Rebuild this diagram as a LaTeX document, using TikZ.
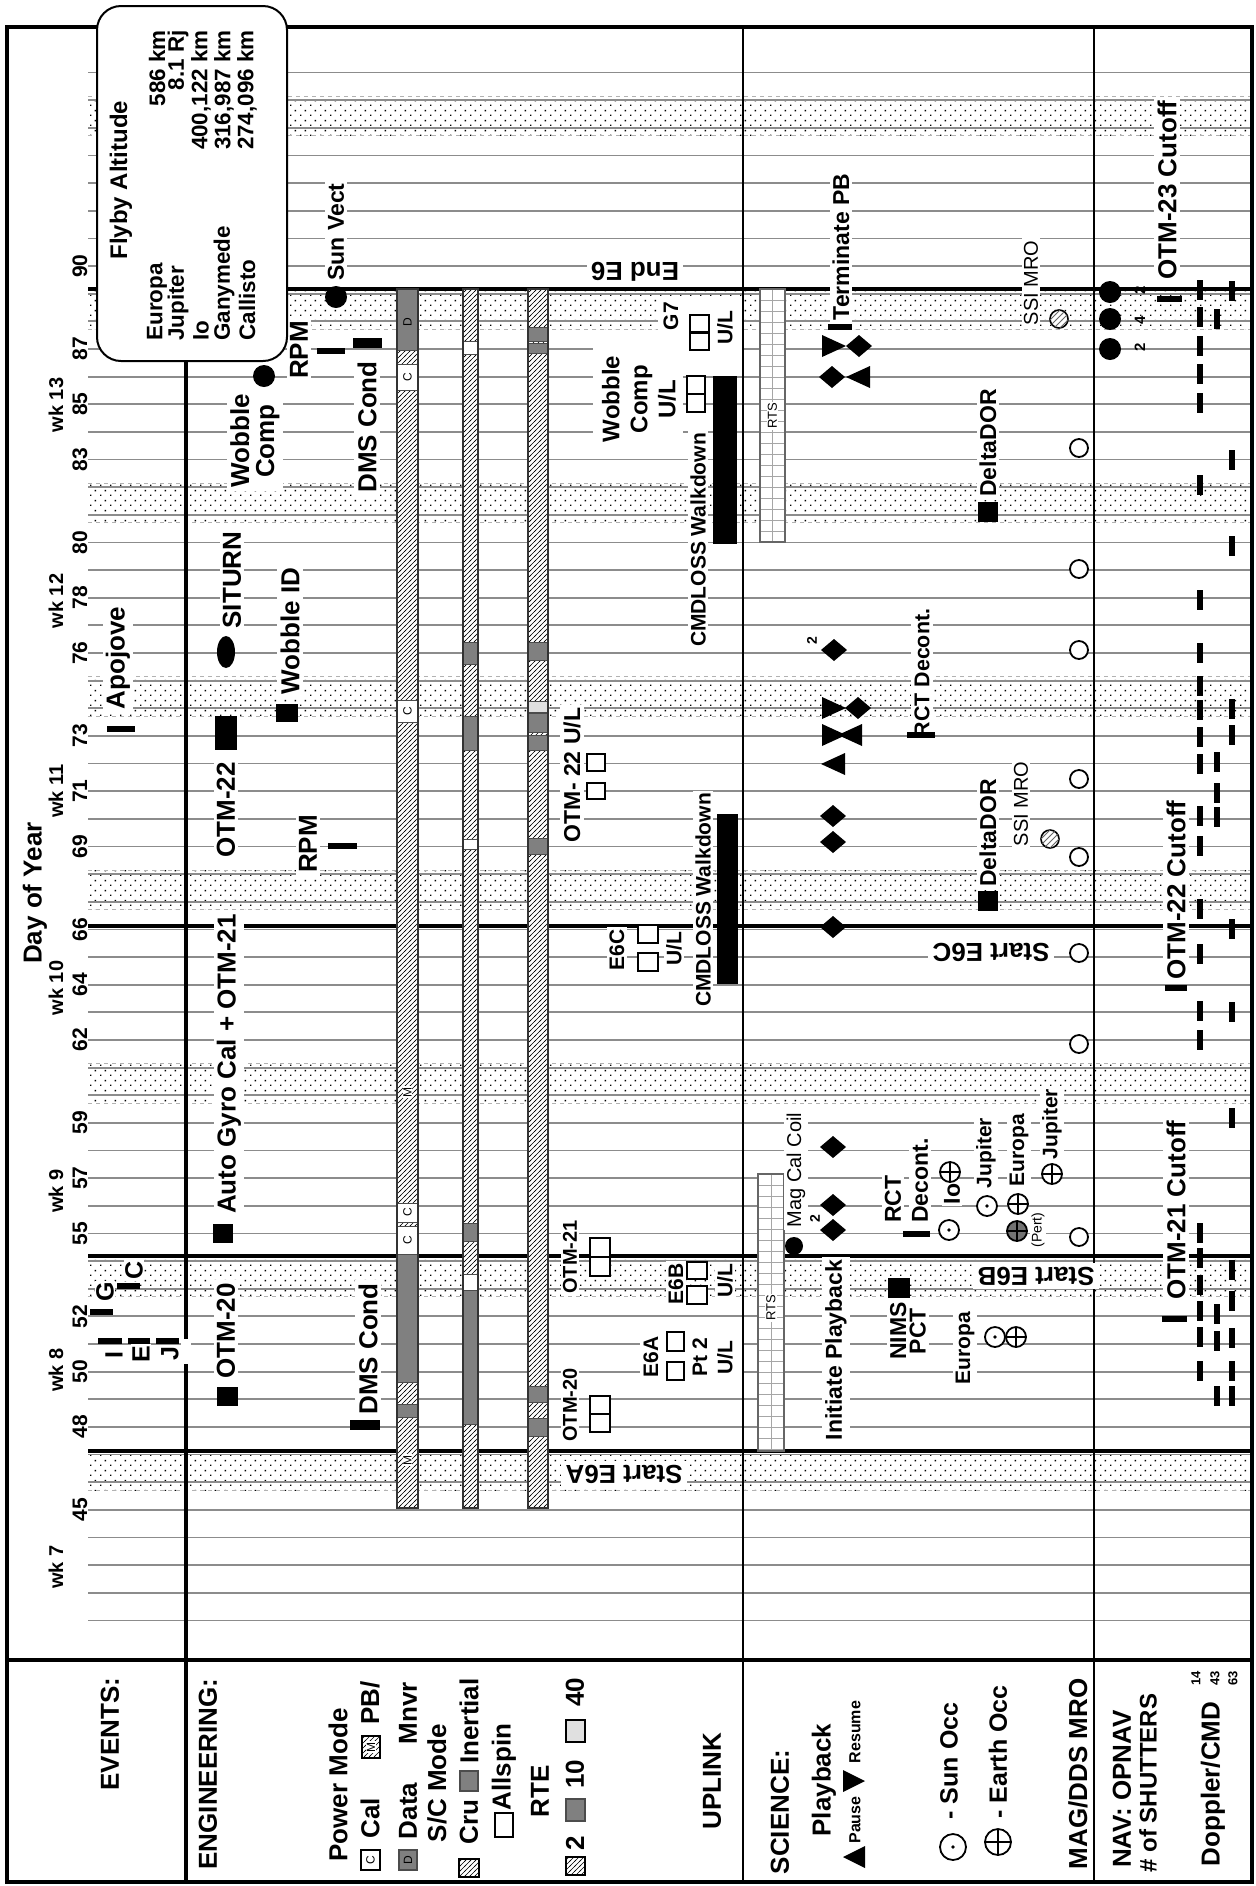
\documentclass[tikz,border=0pt]{standalone}
\usepackage{fontspec}
\setmainfont{Liberation Sans}
\usetikzlibrary{patterns}
\pgfdeclarepatternformonly{stipple}{\pgfqpoint{0pt}{0pt}}{\pgfqpoint{5pt}{5pt}}{\pgfqpoint{5pt}{5pt}}{%
  \pgfpathrectangle{\pgfqpoint{0pt}{0pt}}{\pgfqpoint{0.8pt}{0.8pt}}%
  \pgfpathrectangle{\pgfqpoint{2.5pt}{2.5pt}}{\pgfqpoint{0.8pt}{0.8pt}}%
  \pgfusepath{fill}%
}
\pgfdeclarepatternformonly{finehatch}{\pgfqpoint{-0.5pt}{-0.5pt}}{\pgfqpoint{3pt}{3pt}}{\pgfqpoint{2.5pt}{2.5pt}}{%
  \pgfsetlinewidth{0.32pt}%
  \pgfpathmoveto{\pgfqpoint{-0.5pt}{-0.5pt}}%
  \pgfpathlineto{\pgfqpoint{3pt}{3pt}}%
  \pgfusepath{stroke}%
}
\newcommand{\pbdia}[2]{\fill (#1-13,#2) -- (#1,#2-11) -- (#1+13,#2) -- (#1,#2+11) -- cycle;}
\newcommand{\pbres}[2]{\fill (#1,#2-11) -- (#1+24,#2) -- (#1,#2+11) -- cycle;}
\newcommand{\pbpau}[2]{\fill (#1,#2-11) -- (#1-24,#2) -- (#1,#2+11) -- cycle;}
\newcommand{\sunocc}[3]{\draw[line width=0.9pt,fill=white] (#1,#2) circle[radius=#3]; \fill (#1,#2) circle[radius=1.8];}
\newcommand{\earthocc}[3]{\draw[line width=0.9pt,fill=white] (#1,#2) circle[radius=#3]; \draw[line width=0.9pt] (#1-#3,#2) -- (#1+#3,#2) (#1,#2-#3) -- (#1,#2+#3);}
\begin{document}
\begin{tikzpicture}[x=0.5pt,y=-0.5pt,
  declare function={dy(\d)=653+(76-\d)*27.64;},
  gridln/.style={draw=black!45,line width=0.9pt},
  evline/.style={line width=2.2pt},
  evbar/.style={line width=2.6pt},
  bl/.style={font=\bfseries\fontsize{13}{15}\selectfont,rotate=90,fill=white,inner sep=1.5pt},
  bm/.style={font=\bfseries\fontsize{11.5}{13}\selectfont,rotate=90,fill=white,inner sep=1.5pt},
  bs/.style={font=\bfseries\fontsize{10.5}{12}\selectfont,rotate=90,fill=white,inner sep=1.2pt},
  rs/.style={font=\fontsize{10}{12}\selectfont,rotate=90,fill=white,inner sep=1.2pt},
  upsd/.style={font=\bfseries\fontsize{13}{15}\selectfont,rotate=180,fill=white,inner sep=2pt},
  tl/.style={font=\bfseries\fontsize{7}{8}\selectfont,rotate=90,inner sep=0pt},
  ubox/.style={draw,line width=0.6pt,fill=white},
  gseg/.style={fill=black!50,draw=black!70,line width=0.4pt},
  wseg/.style={fill=white,draw=black!70,line width=0.4pt}
]
\useasboundingbox (0,0) rectangle (1255,1886);

% ---------- bands, grid, event lines ----------
\foreach \d in {46,53,60,67,74,81,88,95}{
  \fill[pattern=stipple,pattern color=black] (88,{dy(\d+1)-4}) rectangle (1250,{dy(\d)+8});
  \draw[black!30,dash pattern=on 2pt off 2pt,line width=0.5pt] (88,{dy(\d+1)-4}) -- (1250,{dy(\d+1)-4});
  \draw[black!30,dash pattern=on 2pt off 2pt,line width=0.5pt] (88,{dy(\d)+8}) -- (1250,{dy(\d)+8});
}
\foreach \d in {41,...,97} \draw[gridln] (88,{dy(\d)}) -- (1250,{dy(\d)});
\foreach \yy in {289,926,1256,1451} \draw[evline] (88,\yy) -- (1250,\yy);

% ---------- separators and frame ----------
\draw[line width=1.6pt] (186,361) -- (186,1882);
\draw[line width=1.1pt] (743,27) -- (743,1882);
\draw[line width=1.3pt] (1094,27) -- (1094,1882);
\draw[line width=1.6pt] (7,1660) -- (1252,1660);
\draw[line width=2.2pt] (7,27) rectangle (1252,1882);
\fill[white] (181,1339) rectangle (191,1364);

% ---------- day and week labels ----------
\foreach \d in {45,48,50,52,55,57,59,62,64,66,69,71,73,76,78,80,83,85,87,90}
  \node[bs,fill=none] (day\d) at (80,{dy(\d)}) {\d};
\foreach \w/\yy in {7/1567,8/1370,9/1191,10/988,11/791,12/601,13/405}
  \node[bs,fill=none,font=\bfseries\fontsize{10}{12}\selectfont] (wk\w) at (56,\yy) {wk \w};
\node[bl,fill=none] (doy) at (35,893) {Day of Year};

% ---------- power mode bar ----------
\fill[white] (397,289) rectangle (418,1508);
\fill[pattern=finehatch,pattern color=black] (397,289) rectangle (418,1508);
\foreach \a/\b in {289/350,1254/1382,1404/1417} \draw[gseg] (397,\a) rectangle (418,\b);
\foreach \a/\b in {364/390,700/722,1203/1222,1226/1254} \draw[wseg] (397,\a) rectangle (418,\b);
\draw[black!80,line width=0.9pt] (397,289) rectangle (418,1508);
\node[tl,font=\fontsize{6}{7}\selectfont] (pmD) at (407.5,322) {D};
\foreach \yy/\nm in {377/a,711/b,1212.5/c,1240/d}
  \node[tl,font=\fontsize{6}{7}\selectfont] (pmC\nm) at (407.5,\yy) {C};
\node[tl,font=\fontsize{6}{7}\selectfont,fill=white,inner sep=0.4pt] (pmMa) at (407.5,1092) {M};
\node[tl,font=\fontsize{6}{7}\selectfont,fill=white,inner sep=0.4pt] (pmMb) at (407.5,1460) {M};

% ---------- S/C mode bar ----------
\fill[white] (463,289) rectangle (478,1508);
\fill[pattern=finehatch,pattern color=black] (463,289) rectangle (478,1508);
\foreach \a/\b in {642/664,716/750,1223/1241,1290/1424} \draw[gseg] (463,\a) rectangle (478,\b);
\foreach \a/\b in {341/354,839/849,1274/1290} \draw[wseg] (463,\a) rectangle (478,\b);
\draw[black!80,line width=0.9pt] (463,289) rectangle (478,1508);

% ---------- RTE bar ----------
\fill[white] (528,289) rectangle (548,1508);
\fill[pattern=finehatch,pattern color=black] (528,289) rectangle (548,1508);
\foreach \a/\b in {327/341,343/353,642/660,713/732,735/750,838/854,1386/1402,1418/1436} \draw[gseg] (528,\a) rectangle (548,\b);
\draw[fill=black!12,draw=black!70,line width=0.4pt] (528,701) rectangle (548,712);
\draw[black!80,line width=0.9pt] (528,289) rectangle (548,1508);

% ---------- RTS bars ----------
\fill[white] (760,289) rectangle (785,542);
\foreach \yy in {300,311,...,540} \draw[black!35,line width=0.5pt] (760,\yy) -- (785,\yy);
\draw[black!35,line width=0.5pt] (772.5,289) -- (772.5,542);
\draw[black!60,line width=0.8pt] (760,289) rectangle (785,542);
\node[tl,font=\fontsize{6.5}{7}\selectfont,fill=white,inner sep=0.5pt] (rtsa) at (772.5,416) {RTS};
\fill[white] (758,1174) rectangle (784,1451);
\foreach \yy in {1185,1196,...,1450} \draw[black!35,line width=0.5pt] (758,\yy) -- (784,\yy);
\draw[black!35,line width=0.5pt] (771,1174) -- (771,1451);
\draw[black!60,line width=0.8pt] (758,1174) rectangle (784,1451);
\node[tl,font=\fontsize{6.5}{7}\selectfont,fill=white,inner sep=0.5pt] (rtsb) at (771,1308) {RTS};

% ---------- EVENTS / ENGINEERING items ----------
\draw[evbar] (107,729) -- (135,729);
\node[bl] (apo) at (118,658) {Apojove};
\draw[evbar] (90,1312) -- (113,1312);
\node[bl,font=\bfseries\fontsize{12.5}{14}\selectfont,inner sep=0.8pt] (evG) at (105,1292) {G};
\draw[evbar] (117,1286) -- (140,1286);
\node[bl,font=\bfseries\fontsize{12.5}{14}\selectfont,inner sep=0.8pt] (evC) at (134,1270) {C};
\draw[evbar] (98,1341) -- (122,1341);
\draw[evbar] (128,1341) -- (150,1341);
\draw[evbar] (156,1341) -- (179,1341);
\node[bl,font=\bfseries\fontsize{12.5}{14}\selectfont,inner sep=0.8pt] (evI) at (114,1355) {I};
\node[bl,font=\bfseries\fontsize{12.5}{14}\selectfont,inner sep=0.8pt] (evE) at (141,1354) {E};
\node[bl,font=\bfseries\fontsize{12.5}{14}\selectfont,inner sep=0.8pt] (evJ) at (170,1354) {J};

\fill (217,1387) rectangle (238,1406);
\node[bl] (otm20) at (226,1331) {OTM-20};
\fill (213,1224) rectangle (233,1243);
\node[bl] (agc) at (229,1064) {Auto Gyro Cal + OTM-21};
\fill (215,716) rectangle (237,750);
\node[bl] (otm22) at (226,810) {OTM-22};
\fill (226,652) ellipse [x radius=9,y radius=16];
\node[bl] (situ) at (232,580) {SITURN};
\fill (276,704) rectangle (298,722);
\node[bl] (wid) at (290,631) {Wobble ID};
\node[bl] (rpma) at (308,844) {RPM};
\draw[evbar] (328,846) -- (357,846);
\node[bl,align=center,font=\bfseries\fontsize{13}{12.5}\selectfont] (wcomp) at (255,441) {Wobble\\Comp};
\fill (264,376) circle[radius=11];
\node[bl] (rpmb) at (299,350) {RPM};
\draw[evbar] (317,351) -- (345,351);
\node[bl] (dmsa) at (367,427) {DMS Cond};
\fill (353,338) rectangle (382,348);
\node[bm] (sunv) at (336,232) {Sun Vect};
\fill (336,297) circle[radius=11];
\node[bl] (dmsb) at (368,1349) {DMS Cond};
\fill (350,1420) rectangle (380,1430);

% ---------- UPLINK items ----------
\node[upsd] (ende6) at (635,272) {End E6};
\fill[white] (658,297) rectangle (742,357);
\node[bs,fill=none] (g7) at (671,316) {G7};
\draw[ubox] (690,315) rectangle (709,332);
\draw[ubox] (690,333) rectangle (709,350);
\node[bs,fill=none] (g7ul) at (725,328) {U/L};
\fill[white] (593,348) rectangle (683,446);
\node[bm,fill=none,align=center,font=\bfseries\fontsize{12}{14}\selectfont] (wcul) at (639,399) {Wobble\\Comp\\U/L};
\draw[ubox] (687,376) rectangle (705,394);
\draw[ubox] (687,394) rectangle (705,412);
\fill (713,376) rectangle (737,544);
\node[bs] (cmda) at (698,540) {CMDLOSS Walkdown};
\node[bm] (otm22ul) at (572,775) {OTM- 22 U/L};
\draw[ubox] (587,754) rectangle (605,771);
\draw[ubox] (587,783) rectangle (605,799);
\fill (717,814) rectangle (738,984);
\node[bs] (cmdb) at (703,900) {CMDLOSS Walkdown};
\node[bs] (e6c) at (617,950) {E6C};
\draw[ubox] (638,925) rectangle (658,943);
\draw[ubox] (638,953) rectangle (658,971);
\node[bs] (e6cul) at (674,949) {U/L};
\node[bs,font=\bfseries\fontsize{10}{12}\selectfont] (otm21u) at (570,1257) {OTM-21};
\draw[ubox] (590,1238) rectangle (610,1257);
\draw[ubox] (590,1257) rectangle (610,1276);
\node[bs] (e6b) at (676,1284) {E6B};
\draw[ubox] (687,1262) rectangle (707,1279);
\draw[ubox] (687,1286) rectangle (707,1304);
\node[bs] (e6bul) at (725,1281) {U/L};
\fill[white] (640,1318) rectangle (742,1386);
\node[bs,fill=none] (e6a) at (651,1357) {E6A};
\draw[ubox] (667,1332) rectangle (684,1351);
\draw[ubox] (667,1362) rectangle (684,1380);
\node[bs,fill=none] (pt2) at (700,1357) {Pt 2};
\node[bs,fill=none] (e6aul) at (725,1358) {U/L};
\node[bs,font=\bfseries\fontsize{10}{12}\selectfont] (otm20u) at (570,1405) {OTM-20};
\draw[ubox] (590,1396) rectangle (610,1414);
\draw[ubox] (590,1414) rectangle (610,1432);
\node[upsd] (se6a) at (624,1474) {Start E6A};

% ---------- SCIENCE items ----------
\node[bm] (tpb) at (841,247) {Terminate PB};
\draw[evbar] (828,327) -- (852,327);
\pbres{822}{346} \pbdia{859}{346}
\pbdia{832}{377} \pbpau{870}{377}
\pbdia{834}{650}
\node[tl] (two1) at (812,641) {2};
\pbres{822}{708} \pbdia{858}{708}
\pbres{822}{735} \pbpau{862}{735}
\pbpau{845}{764}
\foreach \yy in {816,842,927,1147,1205,1230} {\pbdia{833}{\yy}}
\node[tl] (two2) at (815,1219) {2};
\node[bm] (ipb) at (836,1350) {Initiate Playback};
\node[rs] (mcc) at (796,1170) {Mag Cal Coil};
\fill (794,1246) circle[radius=9];
\node[bm,font=\bfseries\fontsize{10.7}{12}\selectfont] (rcta) at (922,673) {RCT Decont.};
\draw[evbar] (907,735) -- (935,735);
\node[bm,anchor=west] (rctb) at (893,1226) {RCT};
\node[bm,anchor=west] (decb) at (920,1226) {Decont.};
\draw[evbar] (903,1234) -- (930,1234);
\node[bm,align=center,font=\bfseries\fontsize{11.5}{9.8}\selectfont] (nims) at (908,1331) {NIMS\\PCT};
\fill (888,1278) rectangle (910,1298);
\node[bs] (eurb) at (965,1348) {Europa};
\sunocc{995}{1337}{10}
\earthocc{1016}{1337}{10}
\sunocc{949}{1230}{10}
\node[bm,inner sep=0.8pt] (io) at (952,1194) {Io};
\earthocc{950}{1172}{10}
\sunocc{987}{1206}{10}
\node[bs] (jupa) at (986,1153) {Jupiter};
\draw[line width=0.9pt,fill=black!55] (1017,1231) circle[radius=10];
\draw[line width=0.9pt] (1007,1231) -- (1027,1231) (1017,1221) -- (1017,1241);
\node[rs,font=\fontsize{7}{8}\selectfont,inner sep=0.5pt] (pert) at (1038,1230) {(Pert)};
\earthocc{1018}{1204}{10}
\node[bs] (eura) at (1019,1150) {Europa};
\earthocc{1052}{1174}{10}
\node[bs] (jupb) at (1052,1124) {Jupiter};
\node[bm] (ddora) at (988,443) {DeltaDOR};
\fill (978,502) rectangle (998,522);
\node[bm] (ddorb) at (988,833) {DeltaDOR};
\fill (978,891) rectangle (998,911);
\node[rs] (ssia) at (1031,283) {SSI MRO};
\draw[line width=0.8pt,fill=white] (1059,319) circle[radius=9];
\fill[pattern=north east lines,pattern color=black!60] (1059,319) circle[radius=9];
\node[rs] (ssib) at (1021,804) {SSI MRO};
\draw[line width=0.8pt,fill=white] (1050,839) circle[radius=9];
\fill[pattern=north east lines,pattern color=black!60] (1050,839) circle[radius=9];
\foreach \yy in {448,569,650,779,857,953,1044,1237}
  \draw[line width=0.9pt,fill=white] (1079,\yy) circle[radius=9];
\node[upsd] (se6c) at (991,952) {Start E6C};
\node[upsd] (se6b) at (1036,1276) {Start E6B};

% ---------- NAV items ----------
\foreach \yy in {292,319,349} \fill (1110,\yy) circle[radius=11];
\node[tl,font=\bfseries\fontsize{7.5}{8}\selectfont] (n2a) at (1140,290) {2};
\node[tl,font=\bfseries\fontsize{7.5}{8}\selectfont] (n4) at (1140,320) {4};
\node[tl,font=\bfseries\fontsize{7.5}{8}\selectfont] (n2b) at (1140,347) {2};
\node[bl] (cut23) at (1167,190) {OTM-23 Cutoff};
\draw[evbar] (1157,299) -- (1182,299);
\node[bl] (cut22) at (1176,890) {OTM-22 Cutoff};
\draw[evbar] (1165,988) -- (1187,988);
\node[bl] (cut21) at (1176,1210) {OTM-21 Cutoff};
\draw[evbar] (1162,1319) -- (1187,1319);
\foreach \yy in {290,317,346,374,403,485,600,653,686,710,737,764,816,846,909,954,1011,1040,1233,1258,1285,1311,1337,1371}
  \fill (1197,\yy-10) rectangle (1203,\yy+10);
\foreach \yy in {319,762,793,817,1314,1341,1396}
  \fill (1214,\yy-10) rectangle (1220,\yy+10);
\foreach \yy in {291,460,546,709,735,929,1012,1118,1270,1301,1338,1371,1396}
  \fill (1229,\yy-10) rectangle (1235,\yy+10);

% ---------- Flyby box ----------
\draw[line width=1pt,fill=white,rounded corners=12pt] (97,6) rectangle (287,361);
\node[bm,fill=none,font=\bfseries\fontsize{12}{14}\selectfont] (flyby) at (121,180) {Flyby Altitude};
\foreach \nm/\val/\xx/\id in {Europa/586 km/157/a,Jupiter/8.1 Rj/178/b,Io/{400,122 km}/201/c,Ganymede/{316,987 km}/224/d,Callisto/{274,096 km}/247/e}{
  \node[bs,fill=none,anchor=west,font=\bfseries\fontsize{11.2}{12}\selectfont,inner sep=1pt] (fbn\id) at (\xx,343) {\nm};
  \node[bs,fill=none,anchor=east,font=\bfseries\fontsize{11.2}{12}\selectfont,inner sep=1pt] (fbv\id) at (\xx,28) {\val};
}

% ---------- legend ----------
\node[bl,fill=none] (lgev) at (110,1734) {EVENTS:};
\node[bl,fill=none] (lgeng) at (208,1774) {ENGINEERING:};
\node[bl,fill=none] (lgpm) at (338,1785) {Power Mode};
\draw[fill=white,line width=0.6pt] (361,1850) rectangle (380,1870);
\node[tl,font=\fontsize{6}{7}\selectfont] (lgc) at (370.5,1860) {C};
\node[bl,fill=none] (lgcal) at (370,1818) {Cal};
\fill[white] (362,1736) rectangle (380,1758);
\fill[pattern=finehatch,pattern color=black] (362,1736) rectangle (380,1758);
\draw[line width=0.6pt] (362,1736) rectangle (380,1758);
\node[tl,font=\fontsize{6}{7}\selectfont,fill=white,inner sep=0.3pt] (lgm) at (371,1747) {M};
\node[bl,fill=none] (lgpb) at (370,1703) {PB/};
\draw[gseg,line width=0.6pt] (399,1850) rectangle (417,1870);
\node[tl,font=\fontsize{6}{7}\selectfont] (lgd) at (408,1860) {D};
\node[bl,fill=none] (lgdata) at (408,1811) {Data};
\node[bl,fill=none] (lgmnvr) at (408,1713) {Mnvr};
\node[bl,fill=none] (lgsc) at (437,1783) {S/C Mode};
\fill[white] (459,1859) rectangle (479,1877);
\fill[pattern=finehatch,pattern color=black] (459,1859) rectangle (479,1877);
\draw[line width=0.6pt] (459,1859) rectangle (479,1877);
\node[bl,fill=none] (lgcru) at (469,1822) {Cru};
\draw[gseg,line width=0.6pt] (460,1771) rectangle (478,1791);
\node[bl,fill=none] (lgin) at (469,1721) {Inertial};
\draw[fill=white,line width=0.6pt] (495,1813) rectangle (513,1837);
\node[bl,fill=none] (lgall) at (504,1767) {Allspin};
\node[bl,fill=none] (lgrte) at (540,1791) {RTE};
\fill[white] (566,1857) rectangle (585,1875);
\fill[pattern=finehatch,pattern color=black] (566,1857) rectangle (585,1875);
\draw[line width=0.6pt] (566,1857) rectangle (585,1875);
\node[bl,fill=none] (lg2) at (575,1843) {2};
\draw[gseg,line width=0.6pt] (566,1799) rectangle (585,1821);
\node[bl,fill=none] (lg10) at (575,1774) {10};
\draw[fill=black!12,line width=0.6pt] (566,1720) rectangle (585,1742);
\node[bl,fill=none] (lg40) at (575,1692) {40};
\node[bl,fill=none] (lgup) at (712,1781) {UPLINK};
\node[bl,fill=none] (lgsci) at (780,1812) {SCIENCE:};
\node[bl,fill=none] (lgplay) at (824,1780) {Playback};
\fill (865,1846) -- (843,1857) -- (865,1868) -- cycle;
\node[tl,font=\bfseries\fontsize{8}{9}\selectfont] (lgpause) at (855,1820) {Pause};
\fill (843,1770) -- (865,1781) -- (843,1792) -- cycle;
\node[tl,font=\bfseries\fontsize{8}{9}\selectfont] (lgres) at (855,1732) {Resume};
\sunocc{953}{1847}{13}
\node[bl,fill=none,font=\bfseries\fontsize{12.5}{14}\selectfont] (lgsun) at (949,1761) {- Sun Occ};
\earthocc{998}{1842}{13}
\node[bl,fill=none,font=\bfseries\fontsize{12.5}{14}\selectfont] (lgearth) at (998,1752) {- Earth Occ};
\node[bl,fill=none] (lgmag) at (1078,1774) {MAG/DDS MRO};
\node[bl,fill=none] (lgnav) at (1122,1789) {NAV: OPNAV};
\node[bl,fill=none,font=\bfseries\fontsize{12}{14}\selectfont] (lgsh) at (1148,1783) {\# of SHUTTERS};
\node[bl,fill=none] (lgdop) at (1213,1784) {Doppler/CMD};
\node[tl,font=\bfseries\fontsize{6.5}{7}\selectfont] (lg14) at (1196,1678) {14};
\node[tl,font=\bfseries\fontsize{6.5}{7}\selectfont] (lg43) at (1215,1678) {43};
\node[tl,font=\bfseries\fontsize{6.5}{7}\selectfont] (lg63) at (1233,1678) {63};
\end{tikzpicture}
\end{document}
